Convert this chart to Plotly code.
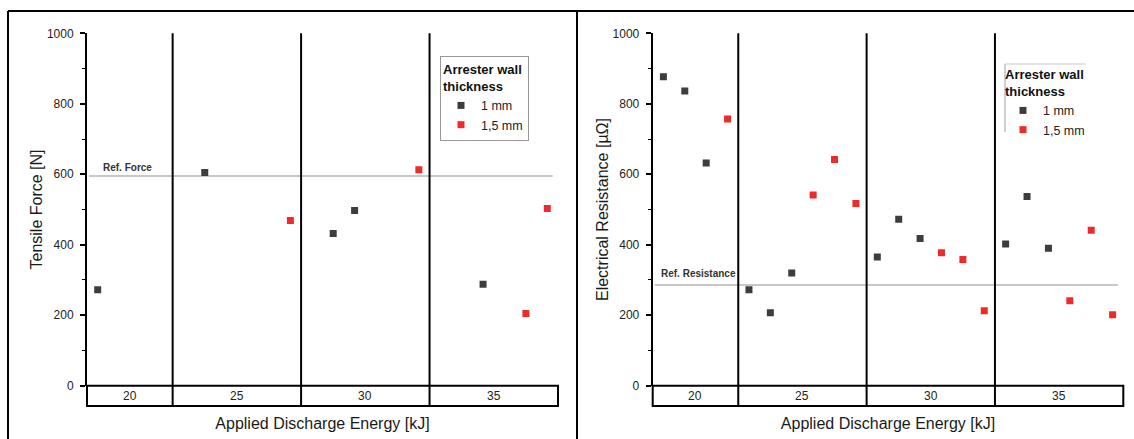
import plotly.graph_objects as go

# ---------------- data ----------------
categories = ["20", "25", "30", "35"]          # applied discharge energy [kJ]
group_sizes = [4, 6, 6, 6]                      # samples per energy level

# Tensile force [N]
force_1mm_x = [1, 6, 12, 13, 19]
force_1mm = [272, 605, 432, 497, 288]
force_15mm_x = [10, 16, 21, 22]
force_15mm = [469, 613, 205, 503]
ref_force = 595

# Electrical resistance [µΩ]
res_1mm_x = [1, 2, 3, 5, 6, 7, 11, 12, 13, 17, 18, 19]
res_1mm = [877, 836, 632, 272, 207, 320, 365, 472, 418, 402, 537, 390]
res_15mm_x = [4, 8, 9, 10, 14, 15, 16, 20, 21, 22]
res_15mm = [757, 541, 642, 517, 377, 358, 213, 241, 441, 201]
ref_res = 286

y_ticks = [0, 200, 400, 600, 800, 1000]

# ---------------- layout constants (pixels) ----------------
W, H = 1134, 439
PLOT_TOP, PLOT_BOTTOM, BOX_BOTTOM = 33.3, 385.7, 406.0
LEFT_X = (87.0, 558.0)
RIGHT_X = (652.7, 1123.3)

BLACK = "#3d3d3d"
RED = "#ee2b2b"
FONT = "Liberation Sans, Arial, sans-serif"

def px_x(v):
    return v / W

def px_y(v):
    return (H - v) / H

box_frac = (BOX_BOTTOM - PLOT_BOTTOM) / (PLOT_BOTTOM - PLOT_TOP)
n_total = sum(group_sizes)
bounds = [0.5]
for g in group_sizes:
    bounds.append(bounds[-1] + g)
centers = [(bounds[i] + bounds[i + 1]) / 2 for i in range(len(group_sizes))]

fig = go.Figure()

marker_common = dict(symbol="square", size=7, line=dict(width=0))
fig.add_trace(go.Scatter(x=force_1mm_x, y=force_1mm, mode="markers", name="1 mm",
                         marker=dict(color=BLACK, **marker_common),
                         xaxis="x", yaxis="y", legend="legend"))
fig.add_trace(go.Scatter(x=force_15mm_x, y=force_15mm, mode="markers", name="1,5 mm",
                         marker=dict(color=RED, **marker_common),
                         xaxis="x", yaxis="y", legend="legend"))
fig.add_trace(go.Scatter(x=res_1mm_x, y=res_1mm, mode="markers", name="1 mm",
                         marker=dict(color=BLACK, **marker_common),
                         xaxis="x2", yaxis="y2", legend="legend2"))
fig.add_trace(go.Scatter(x=res_15mm_x, y=res_15mm, mode="markers", name="1,5 mm",
                         marker=dict(color=RED, **marker_common),
                         xaxis="x2", yaxis="y2", legend="legend2"))

ydom = [px_y(PLOT_BOTTOM), px_y(PLOT_TOP)]

def xaxis_cfg(xr, anchor):
    return dict(domain=[px_x(xr[0]), px_x(xr[1])], range=[0.5, n_total + 0.5],
                anchor=anchor, showline=False, showticklabels=False, ticks="",
                showgrid=False, zeroline=False, automargin=False,
                title=dict(text="Applied Discharge Energy [kJ]",
                           font=dict(size=16, color="#1a1a1a", family=FONT), standoff=32))

def yaxis_cfg(anchor, title):
    return dict(domain=ydom, range=[0, 1000], anchor=anchor, tickvals=y_ticks,
                showline=True, linewidth=2, linecolor="black", automargin=False,
                ticks="outside", ticklen=5, tickwidth=1.5, tickcolor="black",
                minor=dict(ticks="outside", ticklen=3, tickwidth=1.2, tickcolor="black", dtick=100),
                showgrid=False, zeroline=False, ticklabelstandoff=4,
                tickfont=dict(size=12, color="#222", family=FONT),
                title=dict(text=title, font=dict(size=16, color="#1a1a1a", family=FONT), standoff=0))

shapes = []
annotations = []
panels = [("x", "y", ref_force, "Ref. Force", 1.15, 9),
          ("x2", "y2", ref_res, "Ref. Resistance", 0.8, 11)]
for xa, ya, ref, label, lx, ys in panels:
    # category box under the plot
    shapes.append(dict(type="rect", xref=f"{xa} domain", yref=f"{ya} domain",
                       x0=0, x1=1, y0=-box_frac, y1=0,
                       line=dict(color="black", width=2), layer="above"))
    # group dividers
    for b in bounds[1:-1]:
        shapes.append(dict(type="line", xref=xa, yref=f"{ya} domain",
                           x0=b, x1=b, y0=-box_frac, y1=1,
                           line=dict(color="black", width=2), layer="above"))
    # reference line
    shapes.append(dict(type="line", xref=xa, yref=ya, x0=0.6, x1=n_total + 0.25,
                       y0=ref, y1=ref, line=dict(color="#b4b4b4", width=1.5), layer="below"))
    annotations.append(dict(text=f"<b>{label}</b>", xref=xa, yref=ya, x=lx, y=ref,
                            xanchor="left", yanchor="middle", yshift=ys, showarrow=False,
                            font=dict(size=10, color="#333", family=FONT)))
    for c, cat in zip(centers, categories):
        annotations.append(dict(text=cat, xref=xa, yref=f"{ya} domain", x=c, y=-box_frac / 2,
                                xanchor="center", yanchor="middle", showarrow=False,
                                font=dict(size=12, color="#222", family=FONT)))

# outer panel frames
frame = dict(color="black", width=2)
shapes += [
    dict(type="line", xref="paper", yref="paper", x0=px_x(8), x1=px_x(8), y0=-0.05, y1=px_y(11), line=frame),
    dict(type="line", xref="paper", yref="paper", x0=px_x(8), x1=1.01, y0=px_y(11), y1=px_y(11), line=frame),
    dict(type="line", xref="paper", yref="paper", x0=px_x(577), x1=px_x(577), y0=-0.05, y1=px_y(11), line=frame),
]
# partial frame of the right legend
shapes += [
    dict(type="line", xref="paper", yref="paper", x0=px_x(1005), x1=px_x(1005), y0=px_y(132), y1=px_y(64),
         line=dict(color="#a0a0a0", width=1)),
    dict(type="line", xref="paper", yref="paper", x0=px_x(1005), x1=px_x(1086), y0=px_y(64), y1=px_y(64),
         line=dict(color="#c8c8c8", width=1)),
]

legend_title = dict(text="<b>Arrester wall<br>thickness</b>", font=dict(size=13, color="#111", family=FONT))
fig.update_layout(
    width=W, height=H, margin=dict(l=0, r=0, t=0, b=0, autoexpand=False),
    paper_bgcolor="white", plot_bgcolor="white",
    xaxis=xaxis_cfg(LEFT_X, "y"), yaxis=yaxis_cfg("x", "Tensile Force [N]"),
    xaxis2=xaxis_cfg(RIGHT_X, "y2"), yaxis2=yaxis_cfg("x2", "Electrical Resistance [µΩ]"),
    shapes=shapes, annotations=annotations,
    legend=dict(x=px_x(440), y=px_y(56), xanchor="left", yanchor="top",
                bgcolor="white", bordercolor="#999", borderwidth=1,
                title=legend_title, font=dict(size=12.5, color="#222", family=FONT)),
    legend2=dict(x=px_x(1003), y=px_y(62), xanchor="left", yanchor="top",
                 bgcolor="rgba(0,0,0,0)", borderwidth=0,
                 title=legend_title, font=dict(size=12.5, color="#222", family=FONT)),
)

fig.write_html("out.html", config={"displayModeBar": False},
               post_script="document.body.style.margin='0';document.body.style.overflow='hidden';")
